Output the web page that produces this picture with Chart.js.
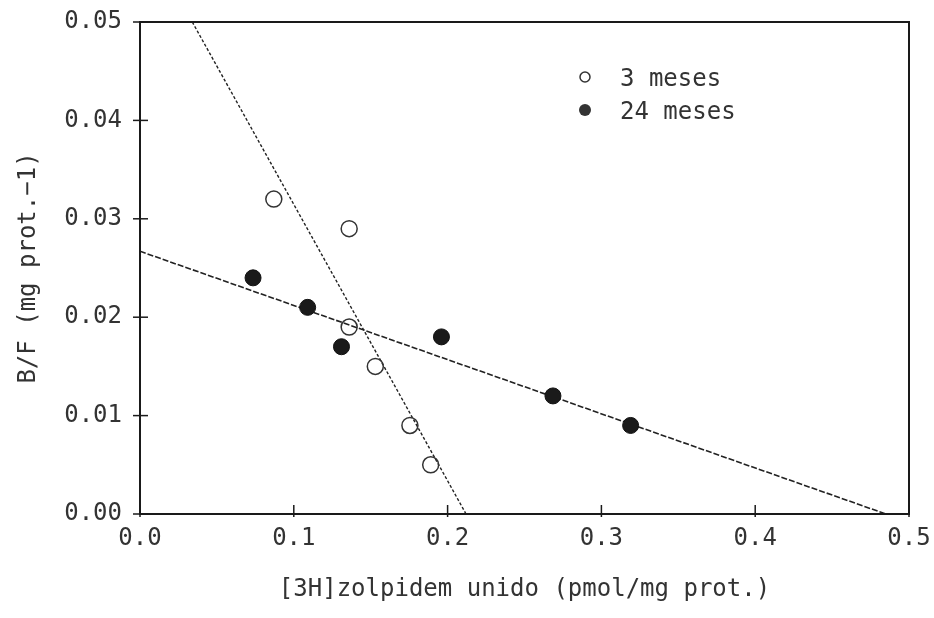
<!DOCTYPE html>
<html>
<head>
<meta charset="utf-8">
<script src="https://cdn.jsdelivr.net/npm/chart.js@4.4.1/dist/chart.umd.min.js"></script>
<style>
  html, body { margin: 0; padding: 0; background: #fff; }
  #wrap { width: 934px; height: 618px; }
</style>
</head>
<body>
<div id="wrap"><canvas id="scatchard"></canvas></div>
<script>
// Scatchard plot, [3H]zolpidem binding, 3 vs 24 months
const seriesLabels = ['3 meses', '24 meses'];
const young_x = [0.087, 0.136, 0.136, 0.153, 0.1755, 0.189];
const young_y = [0.032, 0.029, 0.019, 0.015, 0.009, 0.005];
const old_x = [0.0735, 0.109, 0.131, 0.196, 0.2685, 0.319];
const old_y = [0.024, 0.021, 0.017, 0.018, 0.012, 0.009];
// fitted regression lines (end points)
const youngFit_x = [0.034, 0.212];
const youngFit_y = [0.05, 0.0];
const oldFit_x = [0.0, 0.485];
const oldFit_y = [0.0267, 0.0];
const xTicks = [0, 0.1, 0.2, 0.3, 0.4, 0.5];
const yTicks = [0, 0.01, 0.02, 0.03, 0.04, 0.05];

const ink = '#333';
const fontFam = '"DejaVu Sans Mono", monospace';

const toPts = (xs, ys) => xs.map((x, i) => ({ x: x, y: ys[i] }));

// no extra room for overhanging tick labels, the layout padding handles it
const noOverhang = (s) => {
    s.paddingTop = 0; s.paddingBottom = 0;
    s.paddingLeft = 0; s.paddingRight = 0;
};

// frame + ticks crossing the axes, and the legend inside the plot
const framePlugin = {
    id: 'frame',
    afterDatasetsDraw(chart) {
        const { ctx, chartArea: a, scales } = chart;
        ctx.save();
        ctx.strokeStyle = '#1a1a1a';
        ctx.lineWidth = 2;
        ctx.strokeRect(a.left, a.top, a.right - a.left, a.bottom - a.top);
        ctx.lineWidth = 1.5;
        xTicks.forEach(v => {
            const px = scales.x.getPixelForValue(v);
            ctx.beginPath();
            ctx.moveTo(px, a.bottom + 3);
            ctx.lineTo(px, a.bottom - 9);
            ctx.stroke();
        });
        yTicks.forEach(v => {
            const py = scales.y.getPixelForValue(v);
            ctx.beginPath();
            ctx.moveTo(a.left - 7, py);
            ctx.lineTo(a.left + 8, py);
            ctx.stroke();
        });

        // legend
        const lx = 585, ly = [77, 110];
        ctx.font = '24px ' + fontFam;
        ctx.fillStyle = ink;
        ctx.strokeStyle = ink;
        ctx.textBaseline = 'middle';
        seriesLabels.forEach((lab, i) => {
            ctx.beginPath();
            ctx.arc(lx, ly[i], i === 0 ? 5 : 6, 0, Math.PI * 2);
            ctx.lineWidth = 1.5;
            if (i === 0) ctx.stroke(); else ctx.fill();
            ctx.fillText(lab, lx + 35, ly[i] + 3);
        });
        ctx.restore();
    }
};

new Chart(document.getElementById('scatchard'), {
    type: 'scatter',
    data: {
        datasets: [
            {
                label: seriesLabels[0],
                data: toPts(young_x, young_y),
                pointStyle: 'circle',
                pointRadius: 8,
                pointBorderWidth: 1.5,
                borderColor: ink,
                backgroundColor: 'rgba(255,255,255,0)'
            },
            {
                label: seriesLabels[1],
                data: toPts(old_x, old_y),
                pointStyle: 'circle',
                pointRadius: 8,
                pointBorderWidth: 1,
                borderColor: '#111',
                backgroundColor: '#1a1a1a'
            },
            {
                label: 'ajuste 3 meses',
                data: toPts(youngFit_x, youngFit_y),
                showLine: true,
                pointRadius: 0,
                borderColor: '#222',
                borderWidth: 1.4,
                borderDash: [3, 2]
            },
            {
                label: 'ajuste 24 meses',
                data: toPts(oldFit_x, oldFit_y),
                showLine: true,
                pointRadius: 0,
                borderColor: '#222',
                borderWidth: 1.6,
                borderDash: [6, 2]
            }
        ]
    },
    options: {
        responsive: true,
        maintainAspectRatio: false,
        animation: false,
        layout: { padding: { top: 22, right: 25, left: 0, bottom: 0 } },
        plugins: {
            legend: { display: false },
            tooltip: { enabled: false }
        },
        scales: {
            x: {
                type: 'linear',
                min: 0,
                max: 0.5,
                afterFit: (s) => { s.height = 104; noOverhang(s); },
                afterBuildTicks: (s) => { s.ticks = xTicks.map(v => ({ value: v })); },
                grid: { display: false, drawTicks: false },
                border: { display: false },
                ticks: {
                    padding: 10,
                    color: ink,
                    font: { family: fontFam, size: 24 },
                    callback: (v) => Number(v).toFixed(1)
                },
                title: {
                    display: true,
                    text: '[3H]zolpidem unido (pmol/mg prot.)',
                    color: ink,
                    font: { family: fontFam, size: 24 },
                    padding: { top: 0, bottom: 14 }
                }
            },
            y: {
                type: 'linear',
                min: 0,
                max: 0.05,
                afterFit: (s) => { s.width = 140; noOverhang(s); },
                afterBuildTicks: (s) => { s.ticks = yTicks.map(v => ({ value: v })); },
                grid: { display: false, drawTicks: false },
                border: { display: false },
                ticks: {
                    padding: 18,
                    color: ink,
                    font: { family: fontFam, size: 24 },
                    callback: (v) => Number(v).toFixed(2)
                },
                title: {
                    display: true,
                    text: 'B/F (mg prot.\u22121)',
                    color: ink,
                    font: { family: fontFam, size: 24 },
                    padding: { top: 14, bottom: 0 }
                }
            }
        }
    },
    plugins: [framePlugin]
});
</script>
</body>
</html>
